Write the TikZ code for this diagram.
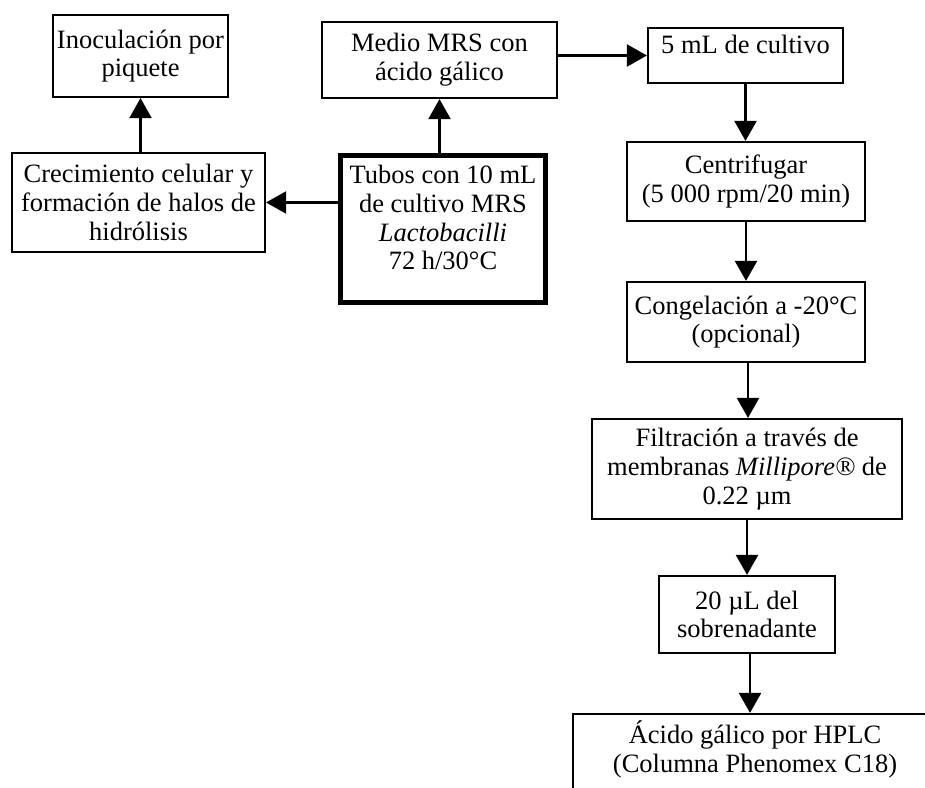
\documentclass[tikz,border=0pt]{standalone}
\usepackage{fontspec}
\setmainfont{Liberation Serif}
\usetikzlibrary{arrows.meta}
\begin{document}
\begin{tikzpicture}[x=1pt,y=-1pt,
  box/.style={draw, line width=2.2pt, inner sep=0pt, align=center, font=\fontsize{26.5}{28.75}\selectfont},
  txt/.style={inner sep=0pt, align=center, font=\fontsize{26.5}{28.75}\selectfont},
  arr/.style={line width=2.2pt, -{Triangle[length=20pt,width=22pt]}}]
\useasboundingbox (0,0) rectangle (925,787);
\clip (0,0) rectangle (925,787);
% left column
\node[box, minimum width=175pt, minimum height=82pt] (inoc) at (140.5,56) {Inoculación por\\piquete};
\node[box, minimum width=253pt, minimum height=99pt] (crec) at (138.5,202.5) {Crecimiento celular y\\formación de halos de\\hidrólisis};
% centre column
\node[box, minimum width=235pt, minimum height=76pt] (medio) at (439.5,60) {Medio MRS con\\ácido gálico};
\node[box, line width=5pt, minimum width=205pt, minimum height=147pt] (tubos) at (443,229) {};
\node[txt, anchor=north] (tubosT) at (443,165) {Tubos con 10 mL\\de cultivo MRS\\\textit{Lactobacilli}\\72 h/30°C};
% right column
\node[box, minimum width=195pt, minimum height=55pt] (cinco) at (745.5,55.5) {};
\node[txt, anchor=north] (cincoT) at (745.5,35) {5 mL de cultivo};
\node[box, minimum width=238pt, minimum height=79pt] (centri) at (746,181.5) {Centrifugar\\(5 000 rpm/20 min)};
\node[box, minimum width=238pt, minimum height=80pt] (conge) at (746,322) {Congelación a -20°C\\(opcional)};
\node[box, minimum width=310pt, minimum height=100pt] (filtra) at (747,469) {Filtración a través de\\membranas \textit{Millipore®} de\\0.22 µm};
\node[box, minimum width=176pt, minimum height=77pt] (muestra) at (747,614.5) {20 µL del\\sobrenadante};
\node[box, minimum width=367pt, minimum height=106pt] (hplc) at (756.5,767) {};
\node[txt, anchor=north] (hplcT) at (755,721) {Ácido gálico por HPLC\\(Columna Phenomex C18)};
% connectors
\draw[arr] (crec.north -| inoc.south) -- (inoc.south);
\draw[arr] (tubos.north -| medio.south) -- (medio.south);
\draw[arr] (tubos.west |- crec.east) -- (crec.east);
\draw[arr] (medio.east |- cinco.west) -- (cinco.west);
\draw[arr] (cinco.south) -- (centri.north -| cinco.south);
\draw[arr] (centri.south) -- (conge.north -| centri.south);
\draw[arr] ([xshift=2pt]conge.south) -- ([xshift=2pt]filtra.north -| conge.south);
\draw[arr] (filtra.south) -- (muestra.north -| filtra.south);
\draw[arr] ([xshift=3pt]muestra.south) -- ([xshift=3pt]hplc.north -| muestra.south);
\end{tikzpicture}
\end{document}
